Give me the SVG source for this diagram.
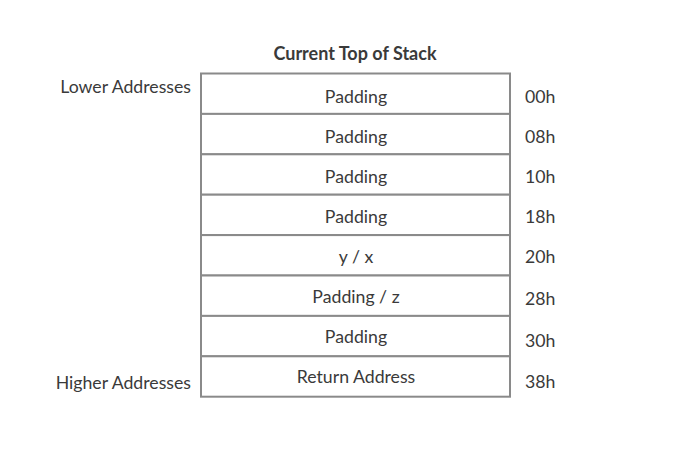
<svg xmlns="http://www.w3.org/2000/svg" width="700" height="460" viewBox="0 0 700 460">
<style>
text{font-family:Lato,"Open Sans","Liberation Sans",sans-serif;font-size:17.7px;fill:#3a3a3a}
.t{font-weight:bold;text-anchor:middle;font-size:18px}
.c{text-anchor:middle}
.r{text-anchor:end}
.cell{fill:#fff;stroke:#8a8a8a;stroke-width:2}
</style>
<rect width="700" height="460" fill="#fff"/>
<text class="t" x="355" y="60">Current Top of Stack</text>
<text class="r" x="191" y="93">Lower Addresses</text>
<text class="r" x="191" y="389">Higher Addresses</text>
<g id="row0"><rect class="cell" x="201" y="73.5" width="309" height="40.4"/><text class="c" x="356" y="103">Padding</text><text x="525" y="103">00h</text></g>
<g id="row1"><rect class="cell" x="201" y="113.9" width="309" height="40.4"/><text class="c" x="356" y="143">Padding</text><text x="525" y="143">08h</text></g>
<g id="row2"><rect class="cell" x="201" y="154.3" width="309" height="40.4"/><text class="c" x="356" y="183">Padding</text><text x="525" y="183">10h</text></g>
<g id="row3"><rect class="cell" x="201" y="194.7" width="309" height="40.4"/><text class="c" x="356" y="223">Padding</text><text x="525" y="223">18h</text></g>
<g id="row4"><rect class="cell" x="201" y="235.1" width="309" height="40.4"/><text class="c" x="356" y="263">y / x</text><text x="525" y="263">20h</text></g>
<g id="row5"><rect class="cell" x="201" y="275.5" width="309" height="40.4"/><text class="c" x="356" y="303">Padding / z</text><text x="525" y="305">28h</text></g>
<g id="row6"><rect class="cell" x="201" y="315.9" width="309" height="40.4"/><text class="c" x="356" y="343">Padding</text><text x="525" y="347">30h</text></g>
<g id="row7"><rect class="cell" x="201" y="356.3" width="309" height="40.4"/><text class="c" x="356" y="383">Return Address</text><text x="525" y="388">38h</text></g>
<g id="connectors"></g>
</svg>
